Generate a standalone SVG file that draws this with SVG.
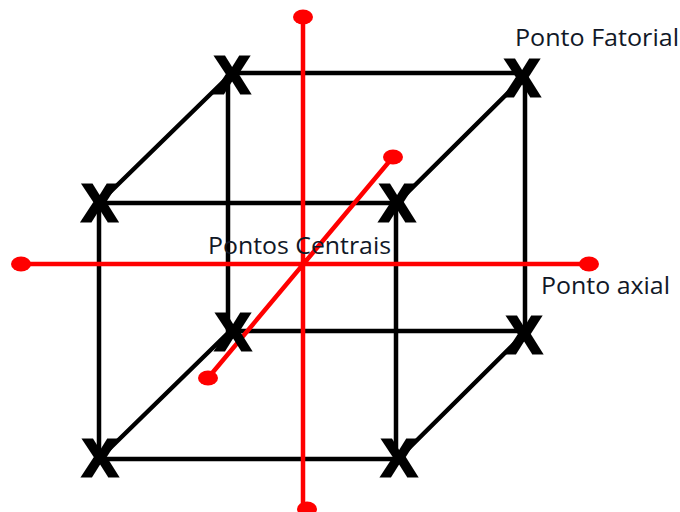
<svg xmlns="http://www.w3.org/2000/svg" width="680" height="512" viewBox="0 0 680 512">
<style>
.k{stroke:#000;stroke-width:4.500;fill:none}
.r{stroke:#f00;stroke-width:4.500;fill:none}
.d{fill:#f00}
.x{font-family:"Liberation Sans",Arial,sans-serif;font-weight:700;font-size:52px;text-anchor:middle;fill:#000;stroke:#000;stroke-width:3px}
.t{font-family:"Open Sans","Noto Sans",sans-serif;font-size:24px;fill:#111827}
</style>
<rect width="680" height="512" fill="#fff"/>
<g id="connectors">
<path class="k" d="M98 203H397M99 203V459M98 459H398M396 203V459M232 73H520M228 75V332M233 331H523M525 75V335"/>
<path class="k" d="M102 200L226 79M401 199L518 83M99 459L228 333M400 457L522 336"/>
<path class="r" d="M303 17V507M21 264H589M393 157L208 378"/>
</g>
<g id="node-1"><text class="x" x="99.500" y="221">X</text></g>
<g id="node-2"><text class="x" x="232" y="93">X</text></g>
<g id="node-3"><text class="x" x="522" y="96">X</text></g>
<g id="node-4"><text class="x" x="397" y="221">X</text></g>
<g id="node-5"><text class="x" x="233" y="350">X</text></g>
<g id="node-6"><text class="x" x="524" y="353">X</text></g>
<g id="node-7"><text class="x" x="100" y="476">X</text></g>
<g id="node-8"><text class="x" x="399" y="476">X</text></g>
<g id="axial-points">
<ellipse class="d" cx="303" cy="17" rx="10" ry="7.500"/>
<ellipse class="d" cx="393" cy="157" rx="10" ry="7.500"/>
<ellipse class="d" cx="21" cy="264" rx="10" ry="7.500"/>
<ellipse class="d" cx="589" cy="264" rx="10" ry="7.500"/>
<ellipse class="d" cx="208" cy="378" rx="10" ry="7.500"/>
<ellipse class="d" cx="307" cy="509" rx="10" ry="7.500"/>
</g>
<g id="labels">
<text class="t" x="515" y="46" textLength="164" lengthAdjust="spacingAndGlyphs">Ponto Fatorial</text>
<text class="t" x="208" y="254" textLength="183" lengthAdjust="spacingAndGlyphs">Pontos Centrais</text>
<text class="t" x="541" y="294" textLength="129" lengthAdjust="spacingAndGlyphs">Ponto axial</text>
</g>
</svg>
